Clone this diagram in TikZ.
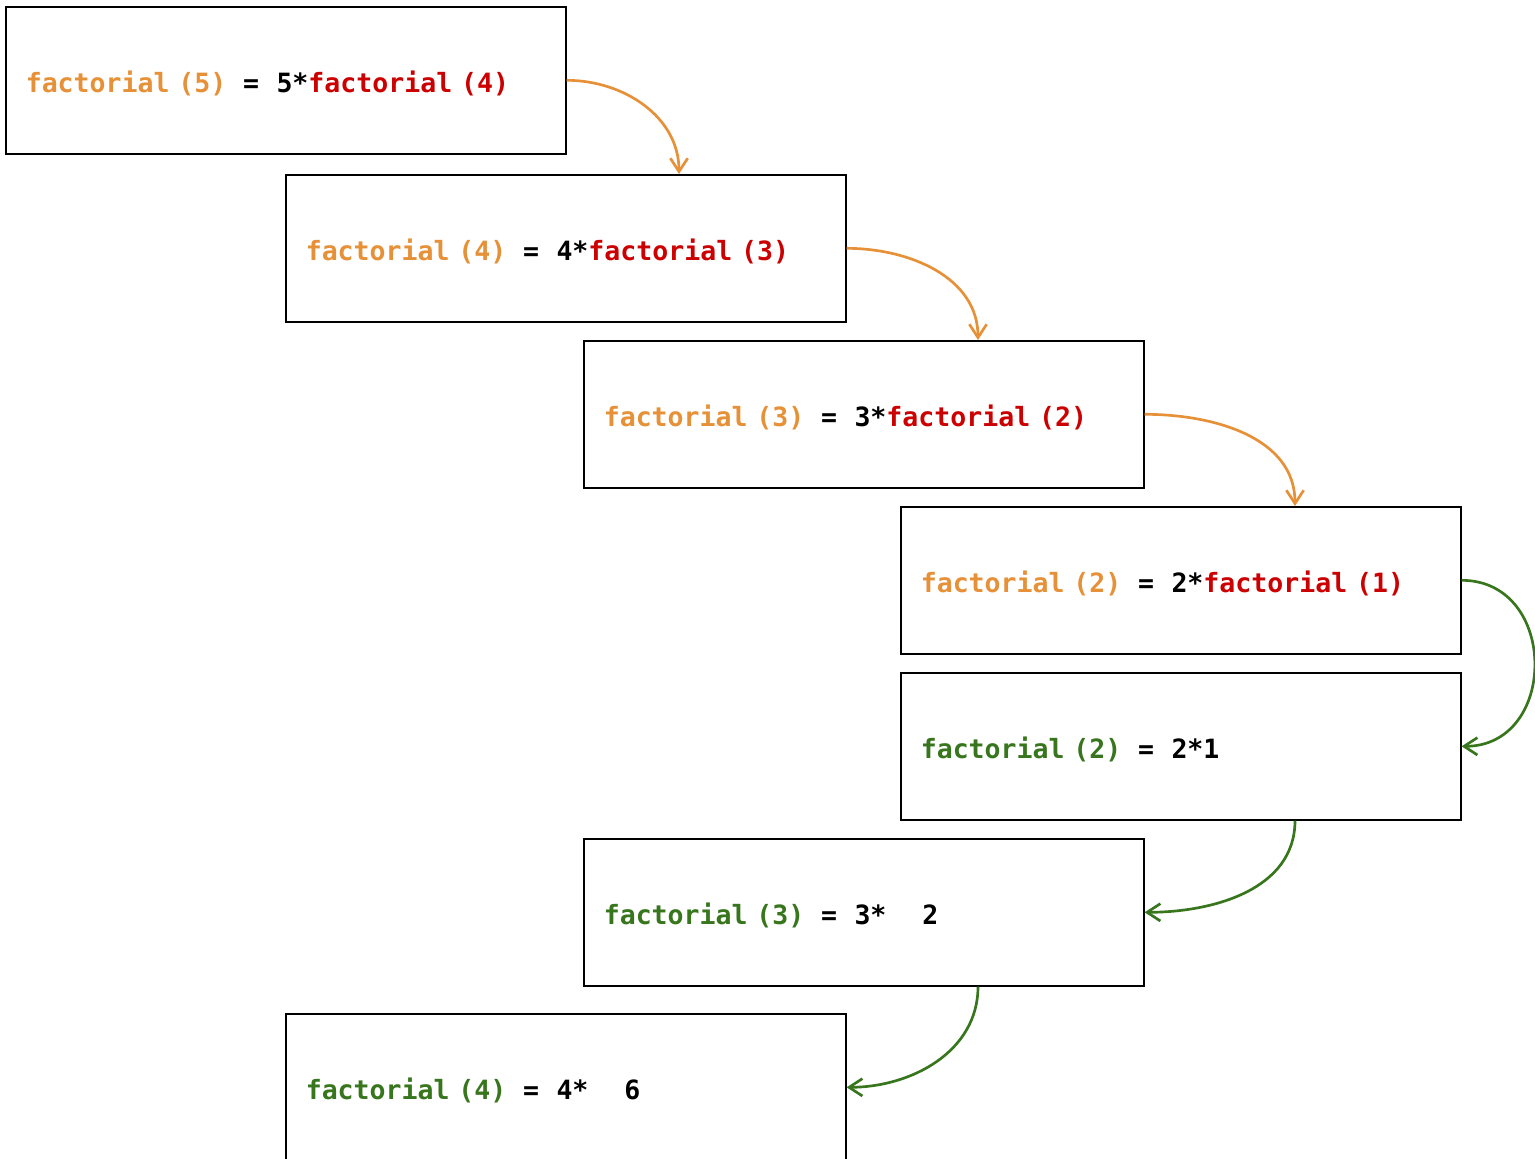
\documentclass[tikz,border=0pt]{standalone}
\usepackage{fontspec}
\newfontfamily\codefont{DejaVu Sans Mono}
\usetikzlibrary{arrows.meta,calc}
\definecolor{callorange}{HTML}{E69138}
\definecolor{callred}{HTML}{CC0000}
\definecolor{retgreen}{HTML}{38761D}
\newcommand\callc[1]{\textcolor{callorange}{#1}}
\newcommand\callr[1]{\textcolor{callred}{#1}}
\newcommand\retg[1]{\textcolor{retgreen}{#1}}
% equals sign with wide code spacing around it
\newcommand\eqs{\hspace{0.63em}=\hspace{0.66em}}
\tikzset{
  frame/.style={draw=black, line width=1.2pt, anchor=north west,
    minimum width=420pt, minimum height=110.25pt, text width=390pt,
    inner xsep=15pt, inner ysep=0pt, align=left,
    text height=20pt, text depth=2pt,
    font=\codefont\bfseries\fontsize{19.9}{24}\selectfont},
  calls/.style={draw=callorange, line width=2pt,
    -{Straight Barb[length=10pt,width=13pt,line width=2pt]}},
  returns/.style={draw=retgreen, line width=2pt,
    -{Straight Barb[length=10pt,width=13pt,line width=2pt]}}
}
\begin{document}
\begin{tikzpicture}[x=0.75pt,y=-0.75pt]
  \clip (0,0) rectangle (1535,1158);
  \fill[white] (0,0) rectangle (1535,1158);

  % descending calls
  \node[frame] (b1) at (5,6)    {\callc{factorial (5)}\eqs5*\callr{factorial (4)}};
  \node[frame] (b2) at (285,174) {\callc{factorial (4)}\eqs4*\callr{factorial (3)}};
  \node[frame] (b3) at (583,340) {\callc{factorial (3)}\eqs3*\callr{factorial (2)}};
  \node[frame] (b4) at (900,506) {\callc{factorial (2)}\eqs2*\callr{factorial (1)}};
  % returning values
  \node[frame] (b5) at (900,672) {\retg{factorial (2)}\eqs2*1};
  \node[frame] (b6) at (583,838) {\retg{factorial (3)}\eqs3*\hspace{1.35em}2};
  \node[frame] (b7) at (285,1013) {\retg{factorial (4)}\eqs4*\hspace{1.35em}6};

  \draw[calls] (b1.east) to[out=0,in=90] ($(b2.north west)+(394,0)$);
  \draw[calls] (b2.east) to[out=0,in=90] ($(b3.north west)+(395,0)$);
  \draw[calls] (b3.east) to[out=0,in=90] ($(b4.north west)+(395,0)$);

  \draw[returns] (b4.east) to[out=0,in=0,looseness=1.5] (b5.east);
  \draw[returns] ($(b5.south west)+(395,0)$) to[out=-90,in=0] (b6.east);
  \draw[returns] ($(b6.south west)+(395,0)$) to[out=-90,in=0] (b7.east);
\end{tikzpicture}
\end{document}
